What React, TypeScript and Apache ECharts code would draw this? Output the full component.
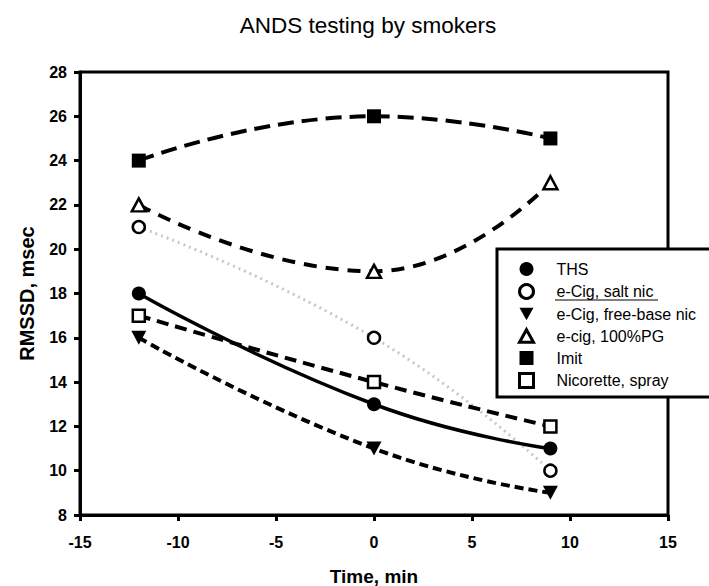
import React, { useEffect, useRef } from "react";
import * as echarts from "echarts";

const TITLE = "ANDS testing by smokers";
const X_NAME = "Time, min";
const Y_NAME = "RMSSD, msec";
const TIMES = [-12, 0, 9];
const THS = [18, 13, 11];
const SALT_NIC = [21, 16, 10];
const FREE_BASE = [16, 11, 9];
const PG100 = [22, 19, 23];
const IMIT = [24, 26, 25];
const NICORETTE = [17, 14, 12];
const NAMES = [
  "THS",
  "e-Cig, salt nic",
  "e-Cig, free-base nic",
  "e-cig, 100%PG",
  "Imit",
  "Nicorette, spray",
];

const FONT = "'Liberation Sans', Arial, Helvetica, sans-serif";
const TRI_DOWN = "path://M0,0L10,0L5,9Z";
const TRI_UP = "path://M5,0L10,9L0,9Z";

const pts = (ys: number[]) => TIMES.map((t, i) => [t, ys[i]]);

export default function App() {
  const ref = useRef<HTMLDivElement>(null);
  useEffect(() => {
    if (!ref.current) return;
    const chart = echarts.init(ref.current, null, { renderer: "svg" });
    const filled = { color: "#000", borderColor: "#000", borderWidth: 0 };
    const empty = { color: "#fff", borderColor: "#000", borderWidth: 2.5 };
    const option: any = {
      animation: false,
      backgroundColor: "#fff",
      title: {
        text: TITLE,
        left: 368,
        top: 14,
        padding: 0,
        textAlign: "center",
        textStyle: { fontFamily: FONT, fontSize: 22.5, fontWeight: "normal", color: "#000" },
      },
      grid: {
        left: 80,
        right: 41,
        top: 72,
        bottom: 71,
        show: true,
        borderColor: "#000",
        borderWidth: 3,
        containLabel: false,
        outerBoundsMode: "none",
      },
      xAxis: {
        type: "value",
        min: -15,
        max: 15,
        interval: 5,
        name: X_NAME,
        nameLocation: "middle",
        nameGap: 52,
        nameTextStyle: { fontFamily: FONT, fontSize: 19, fontWeight: "bold", color: "#000" },
        axisLine: { onZero: false, lineStyle: { color: "#000", width: 3 } },
        axisTick: { show: true, length: 6, lineStyle: { color: "#000", width: 3 } },
        axisLabel: { fontFamily: FONT, fontSize: 16, fontWeight: "bold", color: "#000", margin: 19 },
        splitLine: { show: false },
      },
      yAxis: {
        type: "value",
        min: 8,
        max: 28,
        interval: 2,
        name: Y_NAME,
        nameLocation: "middle",
        nameGap: 43,
        nameTextStyle: { fontFamily: FONT, fontSize: 20, fontWeight: "bold", color: "#000" },
        axisLine: { onZero: false, lineStyle: { color: "#000", width: 3 } },
        axisTick: { show: true, length: 6, lineStyle: { color: "#000", width: 3 } },
        axisLabel: { fontFamily: FONT, fontSize: 16, fontWeight: "bold", color: "#000", margin: 13 },
        splitLine: { show: false },
      },
      legend: {
        orient: "vertical",
        left: 497,
        top: 249,
        z: 20,
        padding: [12, 10, 11, 21],
        itemWidth: 14,
        itemHeight: 14,
        itemGap: 6,
        backgroundColor: "transparent",
        borderWidth: 0,
        textStyle: {
          fontFamily: FONT,
          fontSize: 16,
          lineHeight: 16,
          color: "#000",
          padding: [0, 0, 0, 18],
        },
        data: [
          { name: NAMES[0], icon: "circle", itemStyle: filled },
          { name: NAMES[1], icon: "circle", itemStyle: { ...empty, borderWidth: 3 } },
          { name: NAMES[2], icon: TRI_DOWN, itemStyle: filled },
          { name: NAMES[3], icon: TRI_UP, itemStyle: { ...empty, borderWidth: 3 } },
          { name: NAMES[4], icon: "rect", itemStyle: filled },
          { name: NAMES[5], icon: "rect", itemStyle: { ...empty, borderWidth: 3 } },
        ],
      },
      graphic: [
        {
          type: "rect",
          z: 15,
          shape: { x: 497, y: 249, width: 212, height: 148 },
          style: { fill: "#fff", lineWidth: 0 },
        },
        {
          type: "polyline",
          z: 16,
          shape: { points: [[712, 249], [497, 249], [497, 397], [712, 397]] },
          style: { fill: "none", stroke: "#000", lineWidth: 3 },
        },
        {
          type: "line",
          z: 30,
          shape: { x1: 555, y1: 300, x2: 658, y2: 300 },
          style: { stroke: "#000", lineWidth: 1 },
        },
      ],
      series: [
        {
          name: NAMES[1],
          type: "line",
          data: pts(SALT_NIC),
          smooth: 0.5,
          symbol: "circle",
          symbolSize: 12,
          itemStyle: empty,
          lineStyle: { color: "#c8c8c8", width: 3, type: [2, 4] },
          z: 2,
        },
        {
          name: NAMES[0],
          type: "line",
          data: pts(THS),
          smooth: 0.5,
          symbol: "circle",
          symbolSize: 14,
          itemStyle: filled,
          lineStyle: { color: "#000", width: 3.5, type: "solid" },
          z: 3,
        },
        {
          name: NAMES[2],
          type: "line",
          data: pts(FREE_BASE),
          smooth: 0.5,
          symbol: TRI_DOWN,
          symbolSize: [15, 14],
          itemStyle: filled,
          lineStyle: { color: "#000", width: 4, type: [9, 5] },
          z: 3,
        },
        {
          name: NAMES[3],
          type: "line",
          data: pts(PG100),
          smooth: 0.5,
          symbol: TRI_UP,
          symbolSize: [14, 13],
          itemStyle: empty,
          lineStyle: { color: "#000", width: 4, type: [13, 9] },
          z: 3,
        },
        {
          name: NAMES[4],
          type: "line",
          data: pts(IMIT),
          smooth: 0.5,
          symbol: "rect",
          symbolSize: 14,
          itemStyle: filled,
          lineStyle: { color: "#000", width: 4, type: [16, 8] },
          z: 3,
        },
        {
          name: NAMES[5],
          type: "line",
          data: pts(NICORETTE),
          smooth: 0.5,
          symbol: "rect",
          symbolSize: 12,
          itemStyle: empty,
          lineStyle: { color: "#000", width: 4, type: [12, 7] },
          z: 3,
        },
      ],
    };
    chart.setOption(option);
    return () => chart.dispose();
  }, []);
  return (
    <div
      ref={ref}
      style={{ position: "absolute", left: 0, top: 0, width: 709, height: 586 }}
    />
  );
}
